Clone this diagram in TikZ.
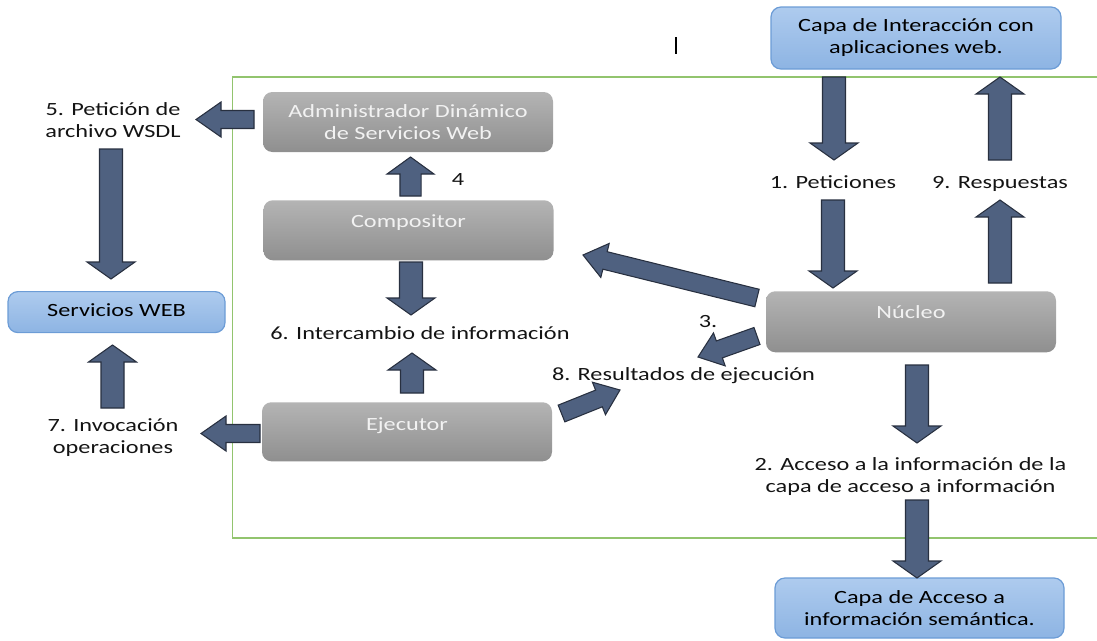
\documentclass[tikz,border=0pt]{standalone}
\usepackage{fontspec}
\setmainfont[FakeStretch=1.3]{Carlito}
\usetikzlibrary{calc}

\definecolor{arrowfill}{RGB}{79,97,128}
\definecolor{arrowedge}{RGB}{40,48,64}
\definecolor{framegreen}{RGB}{146,196,110}
\definecolor{greytop}{RGB}{180,180,180}
\definecolor{greybot}{RGB}{143,143,143}
\definecolor{greytext}{RGB}{242,242,242}
\definecolor{bluetop}{RGB}{174,203,238}
\definecolor{bluebot}{RGB}{141,180,227}
\definecolor{blueedge}{RGB}{108,156,214}
\definecolor{labeltext}{RGB}{20,20,20}

\tikzset{
  % block arrow geometry: half shaft width, half head width, head length
  ba shaft/.store in=\bashaft, ba head/.store in=\bahead, ba len/.store in=\balen,
  ba shaft=8.625pt, ba head=18pt, ba len=12.75pt,
  flatarrow/.style={ba shaft=6.75pt, ba head=13.125pt, ba len=17pt},
  blockarrow/.style={draw=arrowedge, fill=arrowfill, line width=0.8pt, line join=miter,
    to path={let \p1=($(\tikztotarget)!\balen!(\tikztostart)$) in
      ($(\tikztostart)!\bashaft!90:(\tikztotarget)$)
      -- ($(\p1)!\bashaft!90:(\tikztotarget)$)
      -- ($(\p1)!\bahead!90:(\tikztotarget)$)
      -- (\tikztotarget)
      -- ($(\p1)!\bahead!-90:(\tikztotarget)$)
      -- ($(\p1)!\bashaft!-90:(\tikztotarget)$)
      -- ($(\tikztostart)!\bashaft!-90:(\tikztotarget)$) -- cycle}},
  greybox/.style={rounded corners=7pt, top color=greytop, bottom color=greybot,
    text=greytext, inner sep=0pt, minimum width=217.5pt},
  bluebox/.style={rounded corners=7.5pt, top color=bluetop, bottom color=bluebot,
    draw=blueedge, line width=0.9pt, text=black, inner sep=0pt},
  lbl/.style={inner sep=0pt, text=labeltext},
  framebox/.style={draw=framegreen, line width=1.2pt},
}

\begin{document}
\begin{tikzpicture}[x=0.75pt, y=-0.75pt,
  every node/.style={font=\fontsize{14}{16.5}\selectfont}]
\useasboundingbox (0,0) rectangle (1097,640);

% green frame around the processing components
\draw[framebox] (1100,77) -- (232.5,77) -- (232.5,538) -- (1100,538);

% text cursor mark
\draw[line width=0.9pt] (676,37) -- (676,54);

% components
\node[greybox, minimum height=45pt, align=center] (adm) at (408,122)
  {Administrador Dinámico\\de Servicios Web};
\node[greybox, anchor=north, text height=20.25pt, text depth=24.75pt] (comp) at (408.5,200) {Compositor};
\node[greybox, anchor=north, text height=21pt, text depth=23.25pt] (ejec) at (407,402) {Ejecutor};
\node[greybox, anchor=north, text height=20.25pt, text depth=25.5pt] (nuc) at (911,291) {Núcleo};

\node[bluebox, anchor=north, minimum width=162.75pt, text height=18.75pt, text depth=12pt] (web) at (116.5,291) {Servicios WEB};
\node[bluebox, minimum width=217.5pt, minimum height=46.5pt, align=center] (capaI) at (916,38)
  {Capa de Interacción con\\aplicaciones web.};
\node[bluebox, minimum width=216.75pt, minimum height=45pt, align=center] (capaA) at (919.5,608)
  {Capa de Acceso a\\información semántica.};

% labels
\node[lbl, anchor=base] (l1) at (833,188) {1. Peticiones};
\node[lbl, anchor=base] (l9) at (1000,188) {9. Respuestas};
\node[lbl, anchor=base] (l4) at (458,185) {4};
\node[lbl, anchor=base] (l6) at (420,339) {6. Intercambio de información};
\node[lbl, anchor=base] (l3) at (708,327) {3.};
\node[lbl, anchor=base] (l8) at (683.5,380) {8. Resultados de ejecución};
\node[lbl, align=center] (l5) at (113,120.3) {5. Petición de\\archivo WSDL};
\node[lbl, align=center] (l7) at (113,437.5) {7. Invocación\\operaciones};
\node[lbl, align=center] (l2) at (910.5,476.5) {2. Acceso a la información de la\\capa de acceso a información};

% arrow end points
\coordinate (req1a) at (834,77);    \coordinate (req1b) at (834,160);
\coordinate (resp1a) at (1000,160); \coordinate (resp1b) at (1000,77);
\coordinate (req2a) at (833,200);   \coordinate (req2b) at (833,288);
\coordinate (resp2a) at (1000,283); \coordinate (resp2b) at (1000,200);
\coordinate (acc1a) at (917,365);   \coordinate (acc1b) at (917,443);
\coordinate (acc2a) at (917,500);   \coordinate (acc2b) at (917,578);
\coordinate (wsdlA) at (111,149);   \coordinate (wsdlB) at (111,279);
\coordinate (invA) at (112.5,408);  \coordinate (invB) at (112.5,345);
\coordinate (upA) at (410.5,196);   \coordinate (upB) at (410.5,157);
\coordinate (xchA) at (411,262);    \coordinate (xchB) at (411,315);
\coordinate (xchC) at (412,393);    \coordinate (xchD) at (412,353);
\coordinate (admOut) at (254,119.5);\coordinate (admTip) at (196,119.5);
\coordinate (ejOut) at (260,433.5); \coordinate (ejTip) at (201,433.5);
\coordinate (nucA) at (757,298);    \coordinate (nucAtip) at (583,255);
\coordinate (nucB) at (757,336);    \coordinate (nucBtip) at (698,357);
\coordinate (ejR) at (561.5,413.5); \coordinate (ejRtip) at (620,390);

% vertical block arrows
\draw[blockarrow] (req1a) to (req1b);
\draw[blockarrow] (resp1a) to (resp1b);
\draw[blockarrow] (req2a) to (req2b);
\draw[blockarrow] (resp2a) to (resp2b);
\draw[blockarrow] (acc1a) to (acc1b);
\draw[blockarrow] (acc2a) to (acc2b);
\draw[blockarrow] (wsdlA) to (wsdlB);
\draw[blockarrow] (invA) to (invB);
\draw[blockarrow, ba shaft=7.9pt, ba head=17.6pt] (upA) to (upB);
\draw[blockarrow] (xchA) to (xchB);
\draw[blockarrow] (xchC) to (xchD);

% horizontal and slanted block arrows
\draw[blockarrow, flatarrow, ba len=18.75pt] (admOut) to (admTip);
\draw[blockarrow, flatarrow, ba len=18.75pt] (ejOut) to (ejTip);
\draw[blockarrow, flatarrow] (nucA) to (nucAtip);
\draw[blockarrow, flatarrow] (nucB) to (nucBtip);
\draw[blockarrow, flatarrow] (ejR) to (ejRtip);
\end{tikzpicture}
\end{document}
